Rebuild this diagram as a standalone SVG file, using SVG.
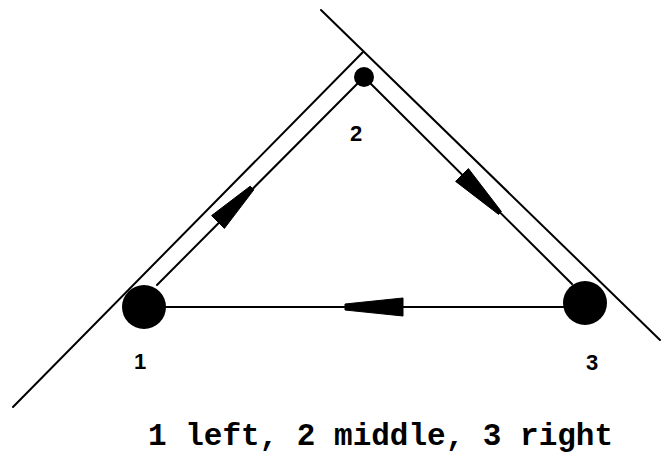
<svg xmlns="http://www.w3.org/2000/svg" width="661" height="455" viewBox="0 0 661 455">
<style>
.ln{stroke:#000;stroke-width:2;fill:none;stroke-linecap:round}
.node{fill:#000}
.ah{fill:#000;stroke:#000;stroke-width:1;stroke-linejoin:round}
.lbl{font-family:"Liberation Sans",Arial,sans-serif;font-size:22px;font-weight:bold;fill:#000;text-anchor:middle}
.cap{font-family:"Liberation Mono","Courier New",monospace;font-size:31px;font-weight:bold;fill:#000}
</style>
<rect width="661" height="455" fill="#fff"/>
<g id="tangents">
<line class="ln" x1="13" y1="407" x2="363" y2="52"/>
<line class="ln" x1="321" y1="10" x2="660" y2="340"/>
</g>
<g id="connectors">
<line class="ln" x1="157" y1="285" x2="364" y2="77"/>
<polygon class="ah" points="211.6,215.6 224.4,228.4 253.8,189.8 250.2,186.2"/>
<line class="ln" x1="364" y1="77" x2="572" y2="284"/>
<polygon class="ah" points="468.4,168.6 455.6,181.4 498.6,214.4 501.4,211.6"/>
<line class="ln" x1="585" y1="307" x2="144" y2="307"/>
<polygon class="ah" points="403,298 403,316 345,310 345,304"/>
</g>
<g id="node1">
<circle class="node" cx="144" cy="307" r="22"/>
<text class="lbl" x="140" y="369">1</text>
</g>
<g id="node2">
<circle class="node" cx="364" cy="77" r="10"/>
<text class="lbl" x="356" y="141">2</text>
</g>
<g id="node3">
<circle class="node" cx="585" cy="303" r="22"/>
<text class="lbl" x="592" y="370">3</text>
</g>
<text class="cap" x="148" y="445">1 left, 2 middle, 3 right</text>
</svg>
